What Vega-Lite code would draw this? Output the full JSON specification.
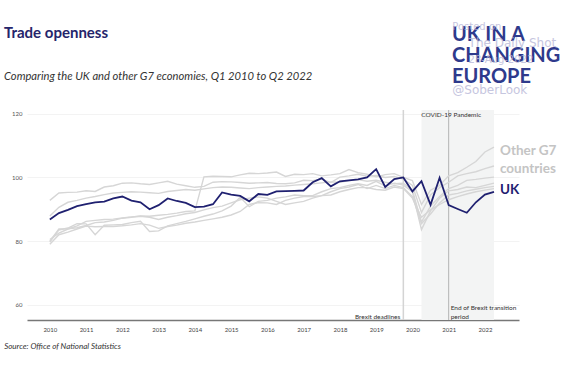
{
  "$schema": "https://vega.github.io/schema/vega-lite/v6.json",
  "width": 492,
  "height": 210,
  "autosize": {"type": "none"},
  "padding": {"left": 27, "top": 110, "right": 45, "bottom": 46},
  "background": "white",
  "config": {"view": {"stroke": null}, "font": "Lato"},
  "datasets": {
    "series": [
      {"t": 2010, "UK": 86.8, "G1": 92.8, "G2": 87.9, "G3": 80.0, "G4": 79.7, "G5": 79.0, "G6": 80.5},
      {"t": 2010.25, "UK": 88.8, "G1": 95.1, "G2": 90.6, "G3": 83.8, "G4": 83.5, "G5": 82.0, "G6": 82.5},
      {"t": 2010.5, "UK": 89.8, "G1": 95.3, "G2": 92.2, "G3": 83.9, "G4": 84.1, "G5": 82.8, "G6": 83.8},
      {"t": 2010.75, "UK": 91.0, "G1": 95.4, "G2": 92.8, "G3": 84.2, "G4": 85.5, "G5": 83.8, "G6": 84.8},
      {"t": 2011, "UK": 91.6, "G1": 95.8, "G2": 93.5, "G3": 84.9, "G4": 85.4, "G5": 84.7, "G6": 86.2},
      {"t": 2011.25, "UK": 92.2, "G1": 95.6, "G2": 94.0, "G3": 85.8, "G4": 82.0, "G5": 84.5, "G6": 86.5},
      {"t": 2011.5, "UK": 92.4, "G1": 97.0, "G2": 94.6, "G3": 86.0, "G4": 85.0, "G5": 84.6, "G6": 86.8},
      {"t": 2011.75, "UK": 93.4, "G1": 97.4, "G2": 95.1, "G3": 86.5, "G4": 85.1, "G5": 84.6, "G6": 86.9},
      {"t": 2012, "UK": 94.0, "G1": 98.2, "G2": 95.3, "G3": 87.2, "G4": 85.2, "G5": 84.8, "G6": 87.3},
      {"t": 2012.25, "UK": 92.7, "G1": 98.3, "G2": 95.5, "G3": 87.5, "G4": 85.8, "G5": 85.1, "G6": 87.6},
      {"t": 2012.5, "UK": 92.2, "G1": 98.0, "G2": 95.4, "G3": 87.9, "G4": 86.2, "G5": 85.5, "G6": 87.8},
      {"t": 2012.75, "UK": 90.0, "G1": 97.8, "G2": 95.2, "G3": 87.8, "G4": 83.0, "G5": 85.0, "G6": 87.5},
      {"t": 2013, "UK": 91.3, "G1": 98.3, "G2": 95.0, "G3": 88.1, "G4": 83.2, "G5": 84.0, "G6": 86.8},
      {"t": 2013.25, "UK": 93.4, "G1": 98.8, "G2": 95.6, "G3": 88.4, "G4": 84.8, "G5": 84.6, "G6": 87.5},
      {"t": 2013.5, "UK": 92.6, "G1": 97.9, "G2": 95.9, "G3": 88.8, "G4": 85.5, "G5": 85.0, "G6": 88.0},
      {"t": 2013.75, "UK": 92.0, "G1": 97.4, "G2": 96.2, "G3": 89.3, "G4": 86.2, "G5": 85.6, "G6": 88.6},
      {"t": 2014, "UK": 90.7, "G1": 96.9, "G2": 96.0, "G3": 89.5, "G4": 87.0, "G5": 86.0, "G6": 89.0},
      {"t": 2014.25, "UK": 90.8, "G1": 97.2, "G2": 96.4, "G3": 100.2, "G4": 87.8, "G5": 86.5, "G6": 89.8},
      {"t": 2014.5, "UK": 91.6, "G1": 98.5, "G2": 96.8, "G3": 100.4, "G4": 88.5, "G5": 87.0, "G6": 90.5},
      {"t": 2014.75, "UK": 95.3, "G1": 98.7, "G2": 97.0, "G3": 100.3, "G4": 89.5, "G5": 87.5, "G6": 91.0},
      {"t": 2015, "UK": 94.6, "G1": 98.6, "G2": 96.9, "G3": 100.2, "G4": 91.0, "G5": 88.2, "G6": 92.0},
      {"t": 2015.25, "UK": 94.2, "G1": 98.4, "G2": 96.7, "G3": 100.8, "G4": 93.8, "G5": 89.3, "G6": 93.0},
      {"t": 2015.5, "UK": 92.5, "G1": 98.2, "G2": 96.5, "G3": 101.3, "G4": 90.8, "G5": 91.5, "G6": 93.5},
      {"t": 2015.75, "UK": 94.8, "G1": 98.3, "G2": 96.8, "G3": 101.2, "G4": 92.5, "G5": 92.1, "G6": 93.9},
      {"t": 2016, "UK": 94.5, "G1": 98.4, "G2": 97.0, "G3": 101.4, "G4": 92.8, "G5": 92.0, "G6": 93.5},
      {"t": 2016.25, "UK": 95.6, "G1": 98.1, "G2": 97.2, "G3": 101.7, "G4": 93.5, "G5": 91.5, "G6": 92.5},
      {"t": 2016.5, "UK": 95.7, "G1": 98.0, "G2": 97.3, "G3": 100.3, "G4": 93.9, "G5": 92.8, "G6": 91.5},
      {"t": 2016.75, "UK": 95.8, "G1": 98.3, "G2": 97.6, "G3": 101.0, "G4": 94.5, "G5": 93.5, "G6": 92.0},
      {"t": 2017, "UK": 95.9, "G1": 99.1, "G2": 97.8, "G3": 100.9, "G4": 94.3, "G5": 94.0, "G6": 92.5},
      {"t": 2017.25, "UK": 98.5, "G1": 99.0, "G2": 98.0, "G3": 101.2, "G4": 94.3, "G5": 94.0, "G6": 93.5},
      {"t": 2017.5, "UK": 99.8, "G1": 99.5, "G2": 98.3, "G3": 100.5, "G4": 95.5, "G5": 94.3, "G6": 94.3},
      {"t": 2017.75, "UK": 97.2, "G1": 98.4, "G2": 98.6, "G3": 100.8, "G4": 96.5, "G5": 95.5, "G6": 94.5},
      {"t": 2018, "UK": 98.8, "G1": 100.1, "G2": 98.5, "G3": 101.2, "G4": 96.8, "G5": 96.5, "G6": 95.5},
      {"t": 2018.25, "UK": 99.1, "G1": 100.5, "G2": 99.0, "G3": 102.5, "G4": 97.5, "G5": 97.0, "G6": 96.2},
      {"t": 2018.5, "UK": 99.4, "G1": 101.0, "G2": 99.3, "G3": 101.5, "G4": 98.0, "G5": 97.8, "G6": 96.8},
      {"t": 2018.75, "UK": 100.0, "G1": 100.4, "G2": 98.8, "G3": 101.0, "G4": 97.5, "G5": 96.5, "G6": 96.8},
      {"t": 2019, "UK": 102.6, "G1": 100.6, "G2": 99.1, "G3": 100.2, "G4": 98.8, "G5": 97.5, "G6": 96.2},
      {"t": 2019.25, "UK": 97.0, "G1": 100.0, "G2": 98.5, "G3": 100.9, "G4": 97.3, "G5": 96.5, "G6": 96.0},
      {"t": 2019.5, "UK": 99.5, "G1": 100.3, "G2": 98.0, "G3": 101.2, "G4": 98.2, "G5": 97.5, "G6": 97.0},
      {"t": 2019.75, "UK": 100.0, "G1": 99.5, "G2": 98.2, "G3": 100.0, "G4": 97.6, "G5": 96.8, "G6": 96.5},
      {"t": 2020, "UK": 95.6, "G1": 97.5, "G2": 96.0, "G3": 99.0, "G4": 95.5, "G5": 94.0, "G6": 93.5},
      {"t": 2020.25, "UK": 98.8, "G1": 89.0, "G2": 86.0, "G3": 91.5, "G4": 83.6, "G5": 85.5, "G6": 87.5},
      {"t": 2020.5, "UK": 91.4, "G1": 94.5, "G2": 91.0, "G3": 96.0, "G4": 89.5, "G5": 88.5, "G6": 89.8},
      {"t": 2020.75, "UK": 99.9, "G1": 96.8, "G2": 94.0, "G3": 97.5, "G4": 93.5, "G5": 92.0, "G6": 91.5},
      {"t": 2021, "UK": 91.3, "G1": 98.5, "G2": 96.5, "G3": 100.5, "G4": 95.8, "G5": 94.5, "G6": 93.0},
      {"t": 2021.25, "UK": 90.1, "G1": 100.5, "G2": 97.5, "G3": 101.5, "G4": 96.2, "G5": 95.0, "G6": 94.0},
      {"t": 2021.5, "UK": 88.9, "G1": 101.2, "G2": 99.1, "G3": 103.2, "G4": 97.0, "G5": 95.8, "G6": 94.8},
      {"t": 2021.75, "UK": 92.2, "G1": 101.8, "G2": 99.4, "G3": 105.0, "G4": 96.8, "G5": 96.3, "G6": 95.5},
      {"t": 2022, "UK": 94.6, "G1": 102.8, "G2": 99.8, "G3": 108.0, "G4": 97.5, "G5": 96.8, "G6": 96.0},
      {"t": 2022.25, "UK": 95.5, "G1": 103.6, "G2": 100.1, "G3": 109.5, "G4": 98.2, "G5": 97.2, "G6": 96.5}
    ]
  },
  "encoding": {
    "x": {"field": "t", "type": "quantitative", "scale": {"domain": [2009.37, 2022.94], "nice": false, "zero": false}},
    "y": {"field": "v", "type": "quantitative", "scale": {"domain": [55.2, 121.2], "nice": false, "zero": false}}
  },
  "layer": [
    {
      "data": {"values": [{"start": 2020.25, "end": 2022.25}]},
      "mark": {"type": "rect", "fill": "#f3f4f4"},
      "encoding": {
        "x": {"field": "start", "type": "quantitative"},
        "x2": {"field": "end"},
        "y": null
      }
    },
    {
      "data": {"values": [{"t": 2019.75, "event": "Brexit deadlines"}]},
      "mark": {"type": "rule", "color": "#d4d4d4", "strokeWidth": 1.5},
      "encoding": {"y": null}
    },
    {
      "data": {"values": [{"t": 2021.0, "event": "End of Brexit transition period"}]},
      "mark": {"type": "rule", "color": "#b4b4b4", "strokeWidth": 1},
      "encoding": {"y": null}
    },
    {
      "data": {"name": "series"},
      "transform": [{"fold": ["G1", "G2", "G3", "G4", "G5", "G6"], "as": ["country", "v"]}],
      "mark": {"type": "line", "color": "#d6d6d6", "strokeWidth": 1.4},
      "encoding": {
        "x": {"field": "t", "type": "quantitative", "axis": {"values": [2010, 2011, 2012, 2013, 2014, 2015, 2016, 2017, 2018, 2019, 2020, 2021, 2022], "format": "d", "title": null, "ticks": false, "grid": false, "labelFontSize": 6, "labelColor": "#444444", "domainColor": "#777777", "domainWidth": 1.5, "labelPadding": 6}},
        "y": {"field": "v", "type": "quantitative", "axis": {"values": [60, 80, 100, 120], "title": null, "ticks": false, "domain": false, "grid": true, "gridColor": "#f3f3f3", "labelFontSize": 6, "labelColor": "#555555", "labelPadding": 5}},
        "detail": {"field": "country"}
      }
    },
    {
      "data": {"name": "series"},
      "mark": {"type": "line", "color": "#1f2070", "strokeWidth": 1.8},
      "encoding": {"y": {"field": "UK", "type": "quantitative"}}
    },
    {
      "data": {"values": [{"t": 2022.25, "v": 108.2, "label": "Other G7"}, {"t": 2022.25, "v": 102.8, "label": "countries"}]},
      "mark": {"type": "text", "align": "left", "baseline": "middle", "dx": 6, "fontSize": 13.5, "fontWeight": "bold", "color": "#c4c4c4", "font": "Lato"},
      "encoding": {"text": {"field": "label"}}
    },
    {
      "data": {"values": [{"t": 2022.25, "v": 96.1, "label": "UK"}]},
      "mark": {"type": "text", "align": "left", "baseline": "middle", "dx": 6, "fontSize": 13.5, "fontWeight": "bold", "color": "#1f2070", "font": "Lato"},
      "encoding": {"text": {"field": "label"}}
    },
    {
      "data": {"values": [{"t": 2021.07, "v": 119.7, "label": "COVID-19 Pandemic"}]},
      "mark": {"type": "text", "align": "center", "baseline": "middle", "fontSize": 6.5, "color": "#333333", "font": "Lato"},
      "encoding": {"text": {"field": "label"}}
    },
    {
      "data": {"values": [{"t": 2019.75, "v": 56.3, "label": "Brexit deadlines"}]},
      "mark": {"type": "text", "align": "right", "baseline": "middle", "dx": -3, "fontSize": 6.5, "color": "#333333", "font": "Lato"},
      "encoding": {"text": {"field": "label"}}
    },
    {
      "data": {"values": [{"t": 2021.0, "v": 59.0, "label": "End of Brexit transition"}, {"t": 2021.0, "v": 56.3, "label": "period"}]},
      "mark": {"type": "text", "align": "left", "baseline": "middle", "dx": 2, "fontSize": 6.5, "color": "#333333", "font": "Lato"},
      "encoding": {"text": {"field": "label"}}
    },
    {
      "data": {"values": [{"t": 2008.736, "v": 143.7, "label": "Trade openness"}]},
      "mark": {"type": "text", "align": "left", "baseline": "alphabetic", "fontSize": 15, "fontWeight": "bold", "color": "#25256b", "font": "Lato"},
      "encoding": {"text": {"field": "label"}}
    },
    {
      "data": {"values": [{"t": 2008.736, "v": 130.6, "label": "Comparing the UK and other G7 economies, Q1 2010 to Q2 2022"}]},
      "mark": {"type": "text", "align": "left", "baseline": "alphabetic", "fontSize": 11.2, "fontStyle": "italic", "color": "#333333", "font": "Lato"},
      "encoding": {"text": {"field": "label"}}
    },
    {
      "data": {"values": [{"t": 2021.09, "v": 144.8, "label": "UK IN A"}, {"t": 2021.09, "v": 138.2, "label": "CHANGING"}, {"t": 2021.09, "v": 131.6, "label": "EUROPE"}]},
      "mark": {"type": "text", "align": "left", "baseline": "middle", "fontSize": 20, "fontWeight": "bold", "color": "#2e3a8c", "font": "Lato"},
      "encoding": {"text": {"field": "label"}}
    },
    {
      "data": {"values": [{"t": 2021.1, "v": 147.3, "label": "Posted on", "s": "a"}, {"t": 2021.55, "v": 142.2, "label": "The Daily Shot", "s": "b"}, {"t": 2021.55, "v": 136.9, "label": "28-Aug-2022", "s": "a"}, {"t": 2021.1, "v": 127.5, "label": "@SoberLook", "s": "b"}]},
      "mark": {"type": "text", "align": "left", "baseline": "middle", "color": "#b8b8d8", "opacity": 0.8, "font": "DejaVu Sans"},
      "encoding": {"text": {"field": "label"}, "size": {"field": "s", "type": "nominal", "scale": {"domain": ["a", "b"], "range": [10, 12]}, "legend": null}}
    },
    {
      "data": {"values": [{"t": 2008.74, "v": 46.7, "label": "Source: Office of National Statistics"}]},
      "mark": {"type": "text", "align": "left", "baseline": "middle", "fontSize": 8, "fontStyle": "italic", "color": "#333333", "font": "Lato"},
      "encoding": {"text": {"field": "label"}}
    }
  ]
}
